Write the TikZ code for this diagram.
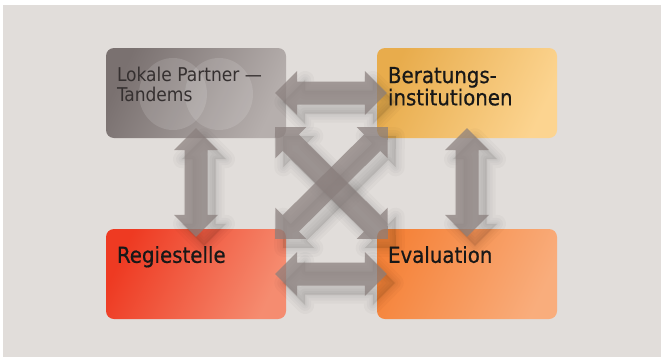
\documentclass[tikz,border=0pt]{standalone}
\usepackage{fontspec}
\newfontfamily\boxfont{DejaVu Sans Condensed}
\newfontfamily\boxfontheavy[FakeBold=0.6]{DejaVu Sans Condensed}
\usepackage{tikz}
\usetikzlibrary{calc,positioning}

\definecolor{bgcol}{HTML}{E1DDDA}
\definecolor{arrowcol}{HTML}{8A7F7D}
\definecolor{textcol}{HTML}{181818}
\definecolor{lptext}{HTML}{353030}
\definecolor{lpA}{HTML}{7A7170}
\definecolor{lpB}{HTML}{B6AFAD}
\definecolor{biA}{HTML}{E8AC4C}
\definecolor{biB}{HTML}{FCD490}
\definecolor{reA}{HTML}{EE3A22}
\definecolor{reB}{HTML}{F58C70}
\definecolor{evA}{HTML}{F5833A}
\definecolor{evB}{HTML}{F9AD7C}

\tikzset{
  box/.style={rectangle, rounded corners=8pt, minimum width=180pt,
    minimum height=90pt, inner sep=0pt},
  boxlabel/.style={inner sep=0pt, align=left, text=textcol,
    font=\boxfontheavy\fontsize{22}{20}\selectfont},
  arrowfill/.style={fill=arrowcol, fill opacity=0.72},
  arrowshadow/.style={fill=black, draw=black, line join=round, opacity=0.022}
}

% double arrow from tip #2 to tip #3
\newcommand{\biarrow}[3][arrowfill]{%
  \path[#1] (#2)
    -- ($(#2)!22pt!(#3)!22pt!90:(#3)$)
    -- ($(#2)!22pt!(#3)!11.5pt!90:(#3)$)
    -- ($(#3)!22pt!(#2)!11.5pt!-90:(#2)$)
    -- ($(#3)!22pt!(#2)!22pt!-90:(#2)$)
    -- (#3)
    -- ($(#3)!22pt!(#2)!22pt!90:(#2)$)
    -- ($(#3)!22pt!(#2)!11.5pt!90:(#2)$)
    -- ($(#2)!22pt!(#3)!11.5pt!-90:(#3)$)
    -- ($(#2)!22pt!(#3)!22pt!-90:(#3)$)
    -- cycle;}

\begin{document}
\begin{tikzpicture}[x=1pt,y=-1pt]
\useasboundingbox (0,0) rectangle (663,359);
\fill[bgcol] (3,5) rectangle (661,357);

% the four boxes
\node[box, top color=lpA, bottom color=lpB, shading angle=65] (lp) at (196,93) {};
\node[box, top color=biA, bottom color=biB, shading angle=65] (bi) at (467,93) {};
\node[box, top color=reA, bottom color=reB, shading angle=65] (re) at (196,274) {};
\node[box, top color=evA, bottom color=evB, shading angle=65] (ev) at (467,274) {};

\fill[white, fill opacity=0.13] ($(lp.center)+(-23,1)$) ellipse [x radius=34, y radius=36];
\fill[white, fill opacity=0.13] ($(lp.center)+(23,1)$) ellipse [x radius=34, y radius=36];

% arrow tips
\coordinate (lpE) at ($(lp.east)+(-11,0)$);
\coordinate (biW) at ($(bi.west)+(10,0)$);
\coordinate (reE) at ($(re.east)+(-11,0)$);
\coordinate (evW) at ($(ev.west)+(10,0)$);
\coordinate (lpS) at ($(lp.south)+(0,-10)$);
\coordinate (reN) at ($(re.north)+(0,8)$);
\coordinate (biS) at ($(bi.south)+(0,-10)$);
\coordinate (evN) at ($(ev.north)+(0,8)$);
\coordinate (lpSE) at ($(lp.south east)+(-11,-11)$);
\coordinate (evNW) at ($(ev.north west)+(11,10)$);
\coordinate (biSW) at ($(bi.south west)+(11,-11)$);
\coordinate (reNE) at ($(re.north east)+(-11,10)$);

% soft shadows
\begin{scope}[transform canvas={shift={(8pt,-9pt)}}]
\foreach \w in {18,12,7,3} {
  \biarrow[arrowshadow, line width=\w pt]{lpE}{biW}
  \biarrow[arrowshadow, line width=\w pt]{reE}{evW}
  \biarrow[arrowshadow, line width=\w pt]{lpS}{reN}
  \biarrow[arrowshadow, line width=\w pt]{biS}{evN}
  \biarrow[arrowshadow, line width=\w pt]{lpSE}{evNW}
  \biarrow[arrowshadow, line width=\w pt]{biSW}{reNE}
}
\end{scope}

\biarrow{lpE}{biW}
\biarrow{reE}{evW}
\biarrow{lpS}{reN}
\biarrow{biS}{evN}
\biarrow{lpSE}{evNW}
\biarrow{biSW}{reNE}

% labels
\node[boxlabel, anchor=north west, text=lptext,
  font=\boxfont\fontsize{19}{20}\selectfont] (lpt) at ($(lp.north west)+(11,19)$)
  {Lokale Partner —\\Tandems};
\node[boxlabel, anchor=north west] (bit) at ($(bi.north west)+(11,19)$)
  {Beratungs-\\institutionen};
\node[boxlabel, anchor=base west] (ret) at ($(re.north west)+(11,34)$) {Regiestelle};
\node[boxlabel, anchor=base west] (evt) at ($(ev.north west)+(11,34)$) {Evaluation};
\end{tikzpicture}
\end{document}
